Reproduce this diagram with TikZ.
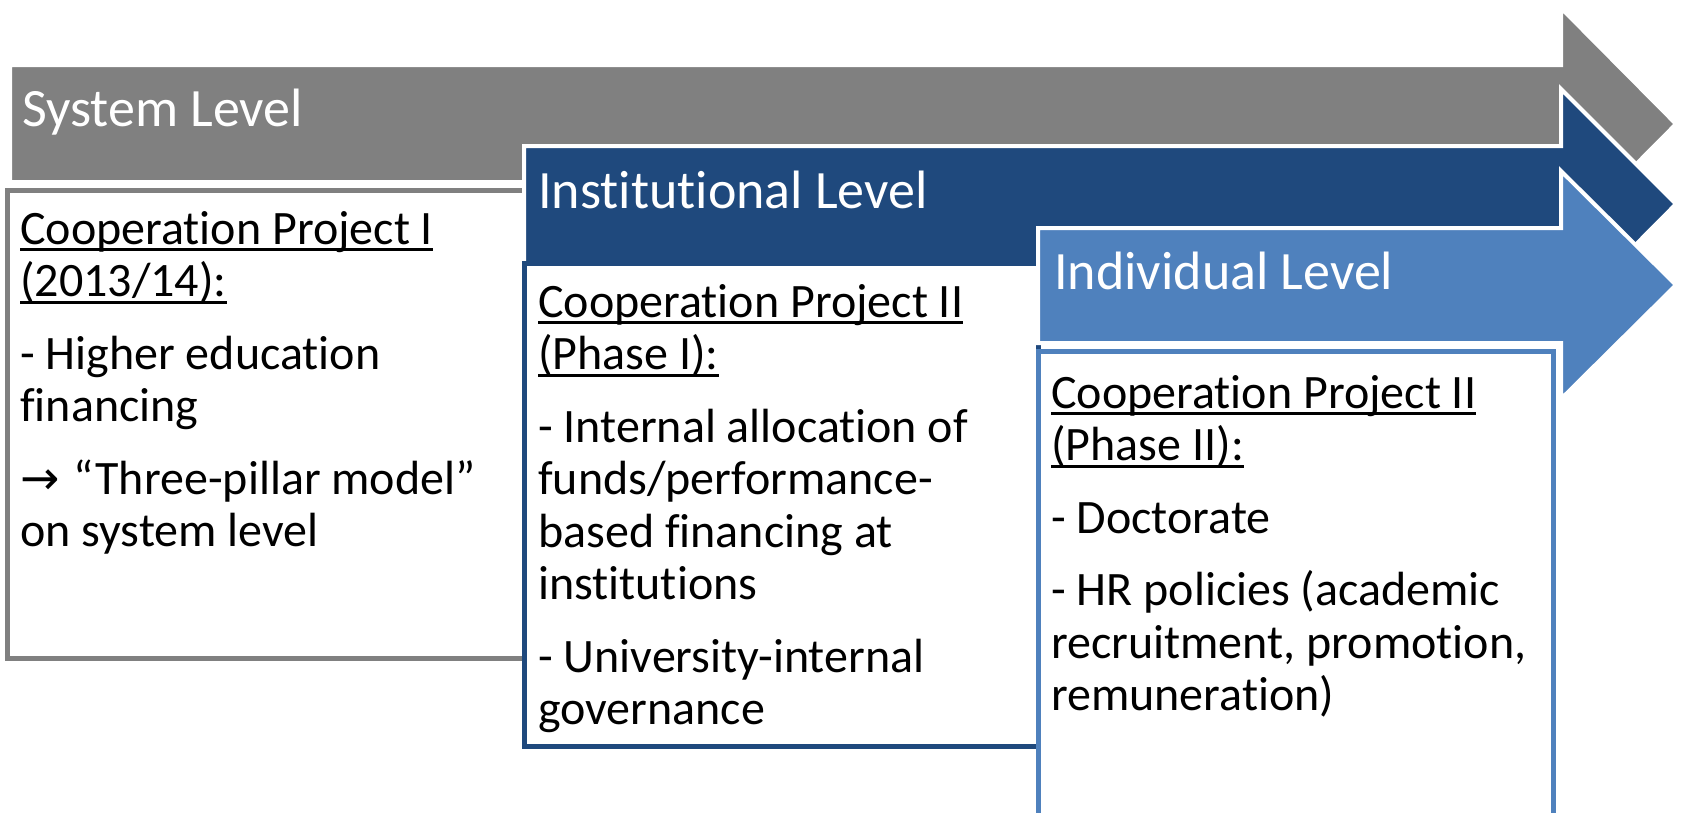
\documentclass[tikz,border=0pt]{standalone}
\usepackage{fontspec}
\setmainfont{Carlito}[Ligatures={NoCommon}]
\newfontfamily\arrowfont{DejaVu Sans}
\definecolor{sysgray}{HTML}{808080}
\definecolor{instblue}{HTML}{1F497D}
\definecolor{indblue}{HTML}{4F81BD}
\newsavebox\ulbox
\newcommand\ulx[1]{\sbox\ulbox{#1}\rlap{\rule[-7pt]{\wd\ulbox}{3pt}}\usebox\ulbox}
\begin{document}
\begin{tikzpicture}[x=1pt,y=-1pt,
  arrowshape/.style={draw=white, line width=4pt, line join=miter},
  contentbox/.style={fill=white, line width=5pt},
  headtext/.style={anchor=base west, inner sep=0pt, text=white, font=\fontsize{54}{64}\selectfont},
  bodytext/.style={anchor=north west, inner sep=0pt, align=left, font=\fontsize{48}{52.5}\selectfont}]
\useasboundingbox (0,0) rectangle (1683,812);
\fill[white] (0,0) rectangle (1683,812);
% System level arrow and box
\draw[arrowshape, fill=sysgray] (10,65) -- (1561,65) -- (1561,8) -- (1676,124) -- (1561,240) -- (1561,182) -- (10,182) -- cycle;
\draw[contentbox, draw=sysgray] (7.5,190) rectangle (700,658);
% Institutional level arrow and box
\draw[arrowshape, fill=instblue] (524,146) -- (1561,146) -- (1561,89) -- (1676,204) -- (1561,320) -- (1561,263) -- (524,263) -- cycle;
\draw[contentbox, draw=instblue] (524,263) rectangle (1038,746);
% Individual level arrow and box
\draw[arrowshape, fill=indblue] (1038,228) -- (1561,228) -- (1561,171) -- (1676,285) -- (1561,399) -- (1561,343) -- (1038,343) -- cycle;
\draw[contentbox, draw=indblue] (1038,351.5) rectangle (1553.5,830);
% labels
\node[headtext] (syslabel) at (22,126) {System Level};
\node[headtext] (instlabel) at (538,208) {Institutional Level};
\node[headtext] (indlabel) at (1054,289) {Individual Level};
\node[bodytext] (systext) at (20,204) {\rule{0pt}{40pt}\ulx{Cooperation Project I}\\
  \ulx{(2013/14):}\\[20pt]
  - Higher education\\
  financing\\[20pt]
  {\arrowfont\fontsize{47}{52}\selectfont →}\hspace{3pt} “Three-pillar model”\\
  on system level};
\node[bodytext] (insttext) at (538,277) {\rule{0pt}{40pt}\ulx{Cooperation Project II}\\
  \ulx{(Phase I):}\\[20pt]
  - Internal allocation of\\
  funds/performance-\\
  based financing at\\
  institutions\\[20pt]
  - University-internal\\
  governance};
\node[bodytext] (indtext) at (1051,368) {\rule{0pt}{40pt}\ulx{Cooperation Project II}\\
  \ulx{(Phase II):}\\[20pt]
  - Doctorate\\[20pt]
  - HR policies (academic\\
  recruitment, promotion,\\
  remuneration)};
\end{tikzpicture}
\end{document}
